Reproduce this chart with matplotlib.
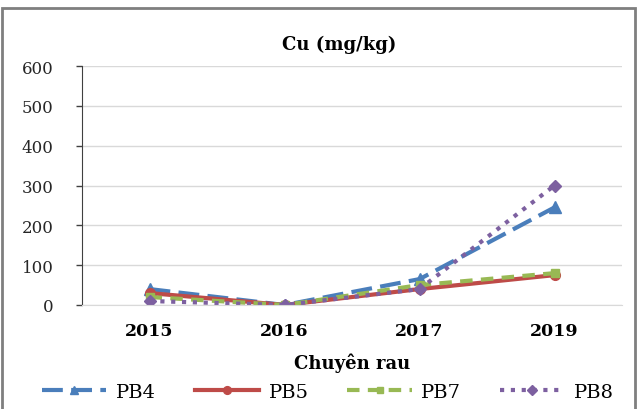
import matplotlib
matplotlib.use("Agg")
import matplotlib.pyplot as plt
from matplotlib.patches import Rectangle

years = ["2015", "2016", "2017", "2019"]
pb4 = [40, 0, 65, 245]
pb5 = [30, 0, 40, 75]
pb7 = [20, 0, 50, 80]
pb8 = [10, 0, 40, 300]
y_ticks = [0, 100, 200, 300, 400, 500, 600]

plt.rcParams["font.family"] = ["DejaVu Serif", "Liberation Serif"]

fig = plt.figure(figsize=(6.37, 4.10), dpi=100)
ax = fig.add_axes([82 / 637, 104 / 410, 540 / 637, 239 / 410])

x = list(range(len(years)))
series = [
    ("PB4", pb4, "#4a7ebb", (0, (5, 2)), "^", 8),
    ("PB5", pb5, "#be4b48", "-", "o", 7),
    ("PB7", pb7, "#98b954", (0, (3, 2)), "s", 6),
    ("PB8", pb8, "#7d60a0", (0, (1, 1.6)), "D", 6),
]
for name, vals, col, ls, mk, ms in series:
    ax.plot(x, vals, color=col, linestyle=ls, linewidth=3, marker=mk,
            markersize=ms, markeredgecolor=col, markerfacecolor=col, label=name)

ax.set_xlim(-0.5, len(years) - 0.5)
ax.set_ylim(0, 600)
ax.set_yticks(y_ticks)
ax.set_yticklabels([str(v) for v in y_ticks], fontsize=12, color="#262626")
ax.set_xticks(x)
ax.set_xticklabels(years, fontsize=12.5, fontweight="bold")
ax.tick_params(axis="x", length=0, pad=12)
ax.tick_params(axis="y", length=4.5, width=1, color="#404040", pad=16)
ax.yaxis.grid(True, color="#d9d9d9", linewidth=1)
ax.set_axisbelow(True)
for s in ["top", "right"]:
    ax.spines[s].set_visible(False)
ax.spines["bottom"].set_color("#d9d9d9")
ax.spines["left"].set_color("#404040")

ax.set_xlabel("Chuyên rau", fontsize=13, fontweight="bold", labelpad=10)
fig.text(0.532, 0.89, "Cu (mg/kg)", ha="center", va="center",
         fontsize=13, fontweight="bold")

handles, labels = ax.get_legend_handles_labels()
fig.legend(handles, labels, loc="center", bbox_to_anchor=(0.515, 0.042),
           ncol=4, frameon=False, fontsize=14, handlelength=3.3,
           columnspacing=2.0, handletextpad=0.5, borderpad=0, markerscale=0.8)

fig.add_artist(Rectangle((2 / 637, -0.01), 633 / 637, 1 - 9 / 410 + 0.01,
                         transform=fig.transFigure, fill=False,
                         edgecolor="#7f7f7f", linewidth=2))

fig.savefig("out.png", dpi=100)
